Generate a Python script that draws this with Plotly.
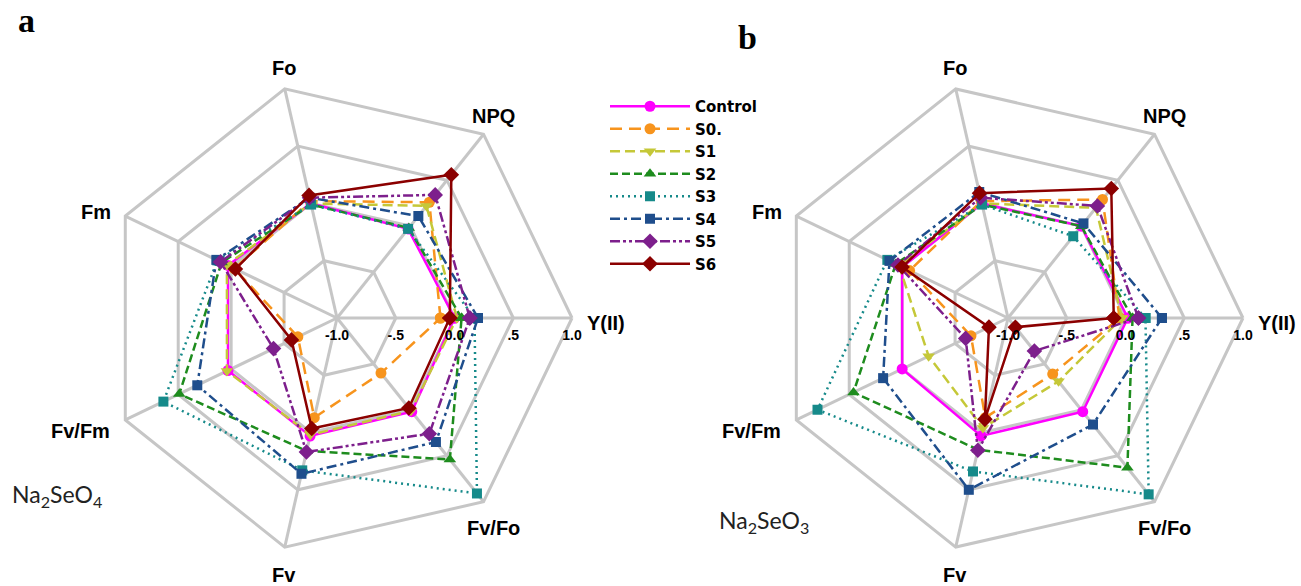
import plotly.graph_objects as go

categories = ["Y(II)", "NPQ", "Fo", "Fm", "Fv/Fm", "Fv", "Fv/Fo"]
radial_ticks = [-1.0, -0.5, 0.0, 0.5, 1.0]
radial_ticktext = ["-1.0", "-.5", "0.0", ".5", "1.0"]
series_names = ["Control", "S0.", "S1", "S2", "S3", "S4", "S5", "S6"]

# Panel a: Na2SeO4
a_control = [0.00, -0.03, 0.00, 0.03, 0.03, 0.03, 0.02]
a_s0 = [-0.12, 0.26, 0.02, -0.03, -0.63, -0.13, -0.40]
a_s1 = [0.02, 0.22, 0.00, 0.04, 0.04, 0.02, 0.01]
a_s2 = [0.06, -0.02, -0.01, 0.09, 0.49, 0.16, 0.54]
a_s3 = [0.17, -0.03, -0.01, 0.13, 0.64, 0.33, 0.91]
a_s4 = [0.20, 0.11, 0.05, 0.14, 0.32, 0.36, 0.35]
a_s5 = [0.13, 0.34, 0.05, 0.10, -0.40, 0.17, 0.26]
a_s6 = [-0.04, 0.56, 0.07, -0.04, -0.57, -0.035, -0.02]

# Panel b: Na2SeO3
b_control = [0.02, 0.00, 0.00, 0.00, 0.00, 0.03, 0.02]
b_s0 = [-0.05, 0.29, 0.02, -0.07, -0.65, -0.13, -0.39]
b_s1 = [-0.03, 0.20, 0.00, 0.03, -0.25, -0.04, -0.31]
b_s2 = [0.06, 0.00, -0.01, 0.06, 0.46, 0.15, 0.63]
b_s3 = [0.17, -0.11, -0.01, 0.14, 0.80, 0.34, 0.92]
b_s4 = [0.31, 0.03, 0.10, 0.12, 0.18, 0.50, 0.16]
b_s5 = [0.11, 0.22, 0.05, 0.04, -0.60, 0.155, -0.64]
b_s6 = [-0.10, 0.41, 0.09, 0.00, -0.82, -0.115, -0.90]

panel_a = [a_control, a_s0, a_s1, a_s2, a_s3, a_s4, a_s5, a_s6]
panel_b = [b_control, b_s0, b_s1, b_s2, b_s3, b_s4, b_s5, b_s6]

# The radial axis starts at -1.0 in the centre. Plotly hides markers when the
# radial range starts below zero, so the axis is drawn on a baseline-shifted
# scale (value - R_MIN) and labelled with the original values.
R_MIN = -1.0

styles = [
    dict(color="#FF00FF", dash="solid", symbol="circle", size=11),
    dict(color="#F7941D", dash="12px,7px", symbol="circle", size=11),
    dict(color="#C5C838", dash="10px,5px", symbol="triangle-down", size=11),
    dict(color="#1E8C1E", dash="8px,4px", symbol="triangle-up", size=11),
    dict(color="#168A8A", dash="2px,4px", symbol="square", size=10),
    dict(color="#1F4E8C", dash="10px,4px,3px,4px", symbol="square", size=10),
    dict(color="#7D1F8C", dash="10px,3px,3px,3px,3px,3px", symbol="diamond", size=12),
    dict(color="#8B0000", dash="solid", symbol="diamond", size=12),
]

fig = go.Figure()
for panel, polar_id, show in [(panel_a, "polar", True), (panel_b, "polar2", False)]:
    for name, vals, st in zip(series_names, panel, styles):
        closed = vals + [vals[0]]
        fig.add_trace(go.Scatterpolar(
            r=[v - R_MIN for v in closed],
            theta=categories + [categories[0]],
            customdata=closed,
            hovertemplate="%{theta}: %{customdata}<extra>" + name + "</extra>",
            mode="lines+markers",
            name=name,
            legendgroup=name,
            showlegend=show,
            subplot=polar_id,
            line=dict(color=st["color"], dash=st["dash"], width=2.5),
            marker=dict(color=st["color"], symbol=st["symbol"], size=st["size"]),
        ))

grid_color = "#C6C6C6"

def polar_layout(xdom, ydom):
    return dict(
        domain=dict(x=xdom, y=ydom),
        gridshape="linear",
        bgcolor="white",
        radialaxis=dict(
            range=[radial_ticks[0] - R_MIN, radial_ticks[-1] - R_MIN],
            tickvals=[t - R_MIN for t in radial_ticks],
            ticktext=["<b>%s</b>" % t for t in radial_ticktext],
            tickfont=dict(family="Liberation Sans, Arial", size=14, color="black"),
            angle=0,
            side="clockwise",
            showline=False,
            gridcolor=grid_color,
            gridwidth=3,
            ticks="outside",
            ticklen=5,
            tickcolor="rgba(0,0,0,0)",
        ),
        angularaxis=dict(
            categoryorder="array",
            categoryarray=categories,
            rotation=0,
            direction="counterclockwise",
            showticklabels=False,
            gridcolor=grid_color,
            gridwidth=3,
            linecolor=grid_color,
            linewidth=3,
            showline=True,
            ticks="",
        ),
    )

# polar centres (px) and category label offsets (px, relative to centre)
W, H = 1301, 586
centers = [(337, 318), (1008, 318)]
label_offsets = [(269, 5), (156, -202), (-53, -250), (-241, -106), (-257, 113), (-53, 257), (156, 210)]

annotations = [
    dict(text="<b>a</b>", x=0.012, y=1.0, xref="paper", yref="paper",
         xanchor="left", yanchor="top", showarrow=False,
         font=dict(family="Liberation Serif, Times New Roman", size=34, color="black")),
    dict(text="<b>b</b>", x=0.566, y=0.971, xref="paper", yref="paper",
         xanchor="left", yanchor="top", showarrow=False,
         font=dict(family="Liberation Serif, Times New Roman", size=34, color="black")),
    dict(text="Na<sub>2</sub>SeO<sub>4</sub>", x=0.008, y=1 - 495 / H, xref="paper", yref="paper",
         xanchor="left", yanchor="middle", showarrow=False,
         font=dict(family="Lato, Open Sans", size=23, color="#222222")),
    dict(text="Na<sub>2</sub>SeO<sub>3</sub>", x=0.551, y=1 - 521 / H, xref="paper", yref="paper",
         xanchor="left", yanchor="middle", showarrow=False,
         font=dict(family="Lato, Open Sans", size=23, color="#222222")),
]
for cx, cy in centers:
    for cat, (dx, dy) in zip(categories, label_offsets):
        annotations.append(dict(
            text="<b>%s</b>" % cat, x=(cx + dx) / W, y=1 - (cy + dy) / H,
            xref="paper", yref="paper", xanchor="center", yanchor="middle",
            showarrow=False,
            font=dict(family="Liberation Sans, Arial", size=20, color="black"),
        ))

fig.update_layout(
    width=W, height=H,
    margin=dict(l=0, r=0, t=0, b=0),
    paper_bgcolor="white",
    polar=polar_layout([0.0784, 0.4397], [0.0563, 0.8584]),
    polar2=polar_layout([0.5942, 0.9554], [0.0563, 0.8584]),
    legend=dict(
        x=605 / W, y=0.8464, xanchor="left", yanchor="top",
        font=dict(family="DejaVu Sans", size=15, color="black", weight="bold"),
        tracegroupgap=0,
        itemwidth=80,
        bgcolor="rgba(0,0,0,0)",
    ),
    annotations=annotations,
)

fig.write_html("out.html", config={"displayModeBar": False},
               post_script="document.body.style.margin='0';document.body.style.overflow='hidden';")
